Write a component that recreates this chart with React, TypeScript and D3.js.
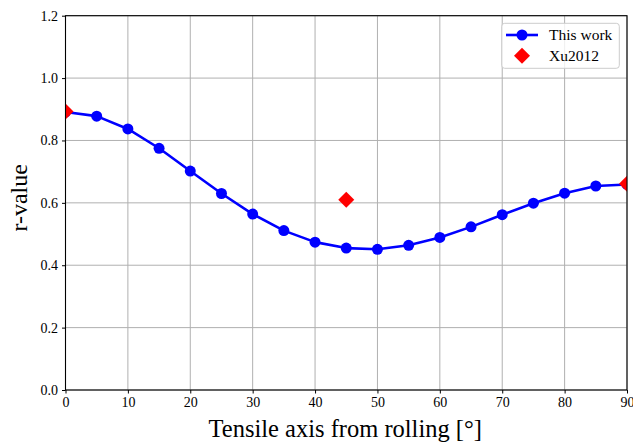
import React, { useEffect, useRef } from "react";
import * as d3 from "d3";

// values
const angles = [0, 5, 10, 15, 20, 25, 30, 35, 40, 45, 50, 55, 60, 65, 70, 75, 80, 85, 90];
const thisWork = [0.891, 0.878, 0.837, 0.775, 0.702, 0.630, 0.564, 0.511, 0.474, 0.455, 0.451, 0.464, 0.489, 0.523, 0.562, 0.599, 0.631, 0.654, 0.659];
const xuAngles = [0, 45, 90];
const xuValues = [0.893, 0.610, 0.661];
const xTicks = [0, 10, 20, 30, 40, 50, 60, 70, 80, 90];
const yTicks = [0, 0.2, 0.4, 0.6, 0.8, 1.0, 1.2];

const FONT = "'Liberation Serif', 'DejaVu Serif', serif";

function Chart() {
    const ref = useRef<SVGSVGElement>(null);

    useEffect(() => {
        const svg = d3.select(ref.current);
        svg.selectAll("*").remove();

        const left = 65.5, right = 627, top = 15.7, bottom = 390;
        const x = d3.scaleLinear().domain([0, 90]).range([left, right]);
        const y = d3.scaleLinear().domain([0, 1.2]).range([bottom, top]);

        svg.append("defs").append("clipPath").attr("id", "plotclip")
            .append("rect").attr("x", left).attr("y", top)
            .attr("width", right - left).attr("height", bottom - top);

        // grid
        const grid = svg.append("g");
        grid.selectAll(".gx").data(xTicks).enter().append("line")
            .attr("x1", d => x(d)).attr("x2", d => x(d))
            .attr("y1", top).attr("y2", bottom)
            .attr("stroke", "#b0b0b0").attr("stroke-width", 1);
        grid.selectAll(".gy").data(yTicks).enter().append("line")
            .attr("x1", left).attr("x2", right)
            .attr("y1", d => y(d)).attr("y2", d => y(d))
            .attr("stroke", "#b0b0b0").attr("stroke-width", 1);

        const plot = svg.append("g").attr("clip-path", "url(#plotclip)");

        // this work
        const line = d3.line<number>().x((_, i) => x(angles[i])).y(d => y(d));
        plot.append("path").datum(thisWork)
            .attr("d", line)
            .attr("fill", "none").attr("stroke", "#0000ff").attr("stroke-width", 2.6)
            .attr("stroke-linejoin", "round");
        plot.selectAll(".pt").data(thisWork).enter().append("circle")
            .attr("cx", (_, i) => x(angles[i])).attr("cy", d => y(d))
            .attr("r", 5.5).attr("fill", "#0000ff");

        // Xu2012
        const diamond = (cx: number, cy: number, s: number) =>
            `M${cx},${cy - s}L${cx + s},${cy}L${cx},${cy + s}L${cx - s},${cy}Z`;
        plot.selectAll(".xu").data(xuValues).enter().append("path")
            .attr("d", (d, i) => diamond(x(xuAngles[i]), y(d), 8))
            .attr("fill", "#ff0000");

        // axes
        const gx = svg.append("g").attr("transform", `translate(0,${bottom})`)
            .call(d3.axisBottom(x).tickValues(xTicks).tickSize(3.5).tickPadding(4).tickFormat(d3.format("d")));
        gx.selectAll("text").style("font-size", "14px").style("font-family", FONT).attr("fill", "#000");

        const gy = svg.append("g").attr("transform", `translate(${left},0)`)
            .call(d3.axisLeft(y).tickValues(yTicks).tickSize(3.5).tickPadding(4).tickFormat(d3.format(".1f")));
        gy.selectAll("text").style("font-size", "14px").style("font-family", FONT).attr("fill", "#000");

        [gx, gy].forEach(g => {
            g.select(".domain").remove();
            g.selectAll("line").attr("stroke", "#000").attr("stroke-width", 1);
        });

        svg.append("rect").attr("x", left).attr("y", top)
            .attr("width", right - left).attr("height", bottom - top)
            .attr("fill", "none").attr("stroke", "#000").attr("stroke-width", 1.1);

        // axis labels
        svg.append("text").attr("x", (left + right) / 2 - 1).attr("y", 437)
            .attr("text-anchor", "middle").style("font-family", FONT).style("font-size", "24.5px")
            .text("Tensile axis from rolling [°]");
        svg.append("text").attr("transform", `translate(27,${(top + bottom) / 2 - 5}) rotate(-90)`)
            .attr("text-anchor", "middle").style("font-family", FONT).style("font-size", "24px")
            .text("r-value");

        // legend
        const lg = svg.append("g");
        lg.append("rect").attr("x", 501.7).attr("y", 23.3).attr("width", 117.6).attr("height", 45)
            .attr("rx", 3).attr("fill", "#fff").attr("fill-opacity", 0.8)
            .attr("stroke", "#cccccc").attr("stroke-width", 1);
        lg.append("line").attr("x1", 506).attr("x2", 538).attr("y1", 35).attr("y2", 35)
            .attr("stroke", "#0000ff").attr("stroke-width", 2.6);
        lg.append("circle").attr("cx", 522).attr("cy", 35).attr("r", 5.5).attr("fill", "#0000ff");
        lg.append("path").attr("d", diamond(522, 55.7, 8)).attr("fill", "#ff0000");
        lg.append("text").attr("x", 549).attr("y", 40).style("font-family", FONT).style("font-size", "15.5px")
            .text("This work");
        lg.append("text").attr("x", 549).attr("y", 60.7).style("font-family", FONT).style("font-size", "15.5px")
            .text("Xu2012");
    }, []);

    return <svg ref={ref} width={633} height={444} style={{ position: "absolute", left: 0, top: 0, background: "#fff" }} />;
}

export default function App() {
    return <Chart />;
}
